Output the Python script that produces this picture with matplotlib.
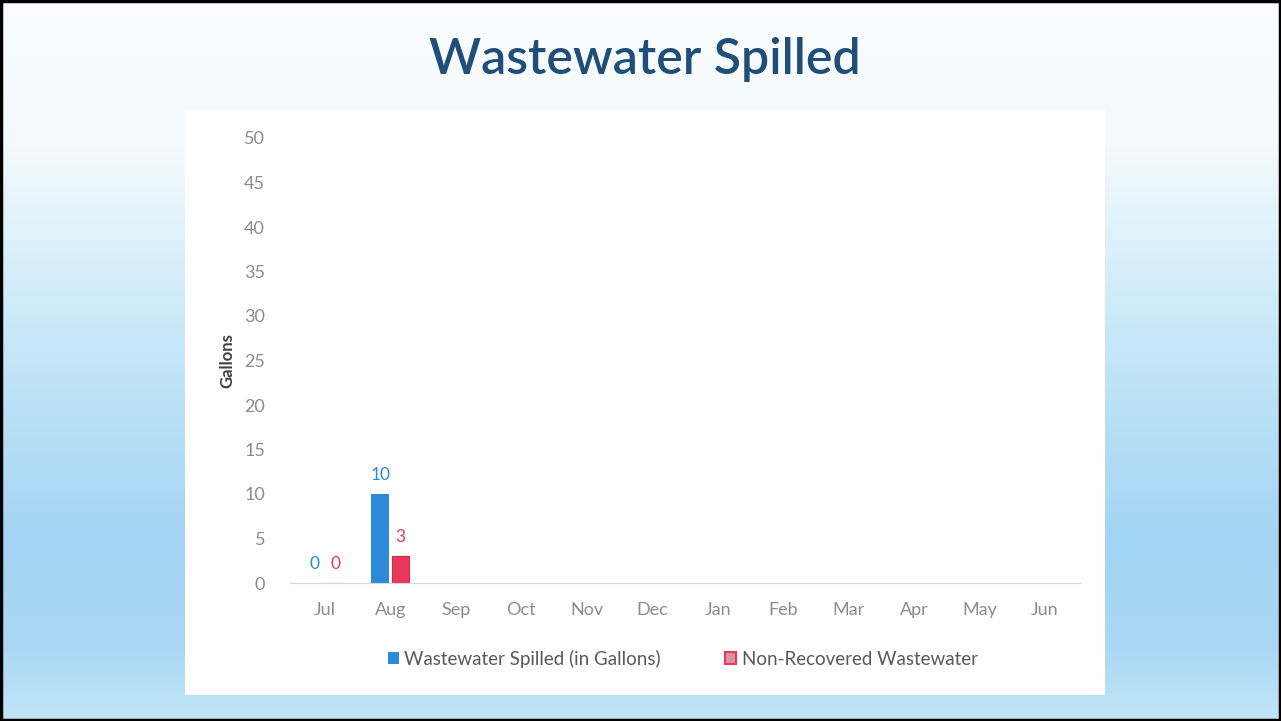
import numpy as np
import matplotlib.pyplot as plt
from matplotlib.patches import Rectangle
from matplotlib.colors import LinearSegmentedColormap

months = ["Jul", "Aug", "Sep", "Oct", "Nov", "Dec", "Jan", "Feb", "Mar", "Apr", "May", "Jun"]
spilled = [0, 10] + [np.nan] * 10
non_recovered = [0, 3] + [np.nan] * 10
yticks = list(range(0, 55, 5))

blue = "#2b8bd9"
red = "#e8395c"
grey = "#8c8c8c"

plt.rcParams['font.family'] = ['Lato', 'DejaVu Sans']

fig = plt.figure(figsize=(12.81, 7.21), dpi=100)

# slide background gradient
bg = fig.add_axes([0, 0, 1, 1])
cmap = LinearSegmentedColormap.from_list(
    "slide", [(0, "#fbfdfe"), (0.2, "#f4fafd"), (0.45, "#c9e9f8"),
              (0.75, "#a3d4f3"), (0.9, "#aad8f4"), (1, "#c2e6f8")])
grad = np.linspace(0, 1, 256).reshape(-1, 1)
bg.imshow(grad, aspect="auto", cmap=cmap, extent=[0, 1, 0, 1], origin="upper")
bg.set_xlim(0, 1)
bg.set_ylim(0, 1)
bg.axis("off")
bg.add_patch(Rectangle((0.001, 0.001), 0.998, 0.997, fill=False, ec="black", lw=2.5))
# white chart panel
bg.add_patch(Rectangle((185 / 1281, 1 - 695 / 721), 920 / 1281, 585 / 721,
                       fc="white", ec="none"))

fig.text(645 / 1281, 1 - 60 / 721, "Wastewater Spilled", ha="center", va="center",
         fontsize=36, fontweight="semibold", color="#1f4e79")

ax = fig.add_axes([290 / 1281, 1 - 583 / 721, 790 / 1281, 445 / 721])
ax.set_facecolor("none")
x = np.arange(len(months))
w = 0.27
off = 0.155
b1 = ax.bar(x - off, spilled, w, color=blue, label="Wastewater Spilled (in Gallons)")
b2 = ax.bar(x + off, non_recovered, w, color=red, edgecolor="#d8284c", lw=0.8,
            label="Non-Recovered Wastewater")

for i in range(len(months)):
    if not np.isnan(spilled[i]):
        ax.annotate(f"{spilled[i]:g}", (x[i] - off, spilled[i]), xytext=(0, 8),
                    textcoords="offset points", ha="center", va="bottom",
                    color=blue, fontsize=12.5)
    if not np.isnan(non_recovered[i]):
        ax.annotate(f"{non_recovered[i]:g}", (x[i] + off, non_recovered[i]), xytext=(0, 8),
                    textcoords="offset points", ha="center", va="bottom",
                    color=red, fontsize=12.5)

ax.set_xlim(-0.535, 11.535)
ax.set_ylim(0, 50)
ax.set_xticks(x)
ax.set_xticklabels(months)
ax.set_yticks(yticks)
ax.tick_params(length=0, colors=grey, labelsize=13)
ax.tick_params(axis="x", pad=14)
ax.tick_params(axis="y", pad=18)
for s in ["top", "right", "left"]:
    ax.spines[s].set_visible(False)
ax.spines["bottom"].set_color("#d9d9d9")
ax.set_ylabel("Gallons", fontsize=12, fontweight="bold", color="#404040", labelpad=6)

leg = ax.legend(loc="center", bbox_to_anchor=(0.497, -0.17), ncol=2, frameon=False,
                fontsize=13.5, labelcolor="#595959", handlelength=0.6, handleheight=0.6,
                handletextpad=0.3, columnspacing=3.4)
# red swatch: red edge, paler fill as in the reference
leg.legend_handles[1].set_facecolor("#d9929f")
leg.legend_handles[1].set_edgecolor(red)
leg.legend_handles[1].set_linewidth(1.5)

fig.savefig("out.png", dpi=100)
